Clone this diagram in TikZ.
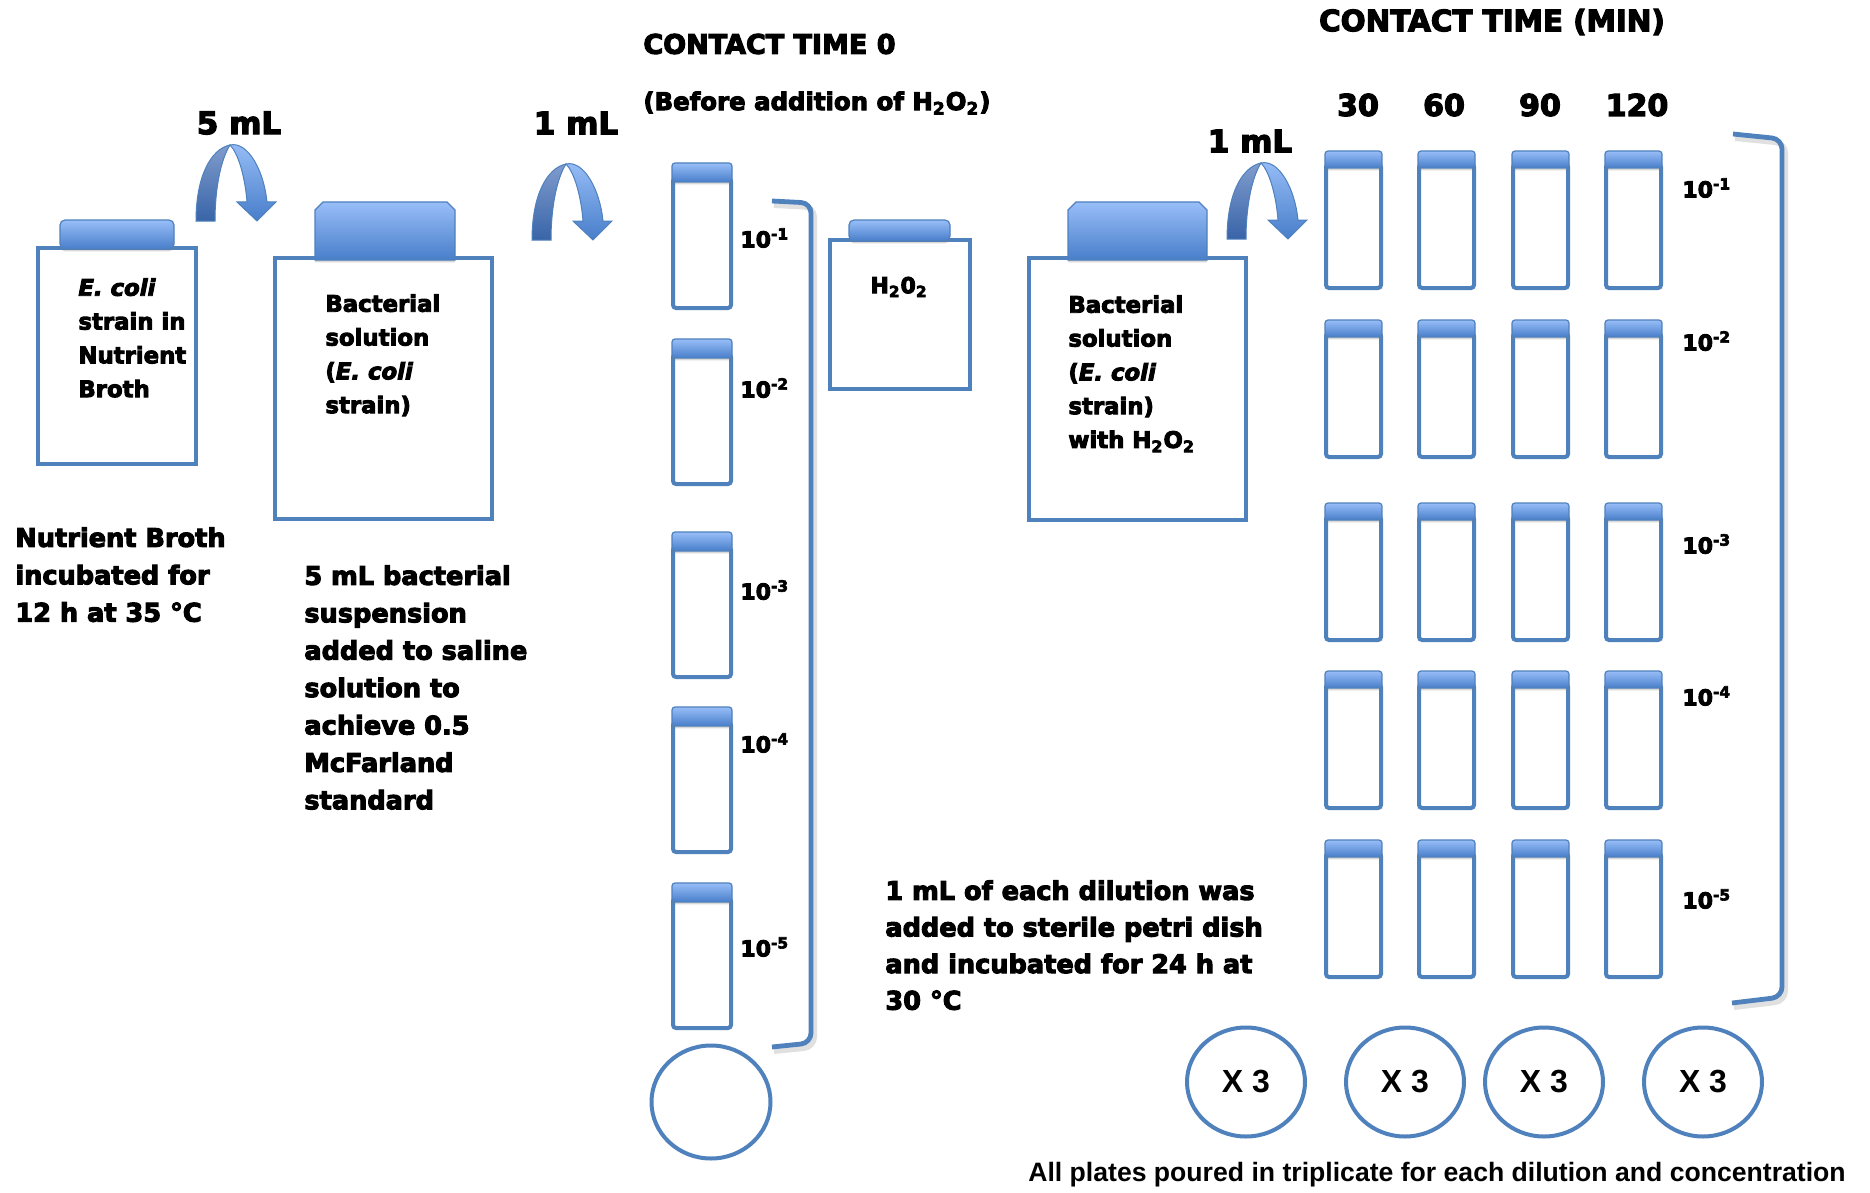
\documentclass[tikz,border=0pt]{standalone}
\usepackage{fontspec}
\setmainfont{DejaVu Sans}[UprightFont={DejaVu Sans Bold},BoldFont={DejaVu Sans Bold},ItalicFont={DejaVu Sans Bold Oblique},BoldItalicFont={DejaVu Sans Bold Oblique},UprightFeatures={FakeBold=4},BoldFeatures={FakeBold=4},ItalicFeatures={FakeBold=4},BoldItalicFeatures={FakeBold=4}]
\newfontfamily\arialfont{Liberation Sans Bold}
\usetikzlibrary{shadows,shapes.geometric}
\definecolor{bblue}{RGB}{79,129,189}
\definecolor{captop}{RGB}{152,190,248}
\definecolor{capbot}{RGB}{72,126,202}
\definecolor{legtop}{RGB}{128,156,205}
\definecolor{legbot}{RGB}{56,100,168}
\tikzset{
  boxline/.style={draw=bblue, line width=2.2pt},
  tubeline/.style={draw=bblue, line width=2pt, rounded corners=1.5pt},
  capfill/.style={top color=captop, bottom color=capbot, draw=bblue, line width=0.6pt,
     drop shadow={opacity=0.3, shadow xshift=0pt, shadow yshift=-1.2pt}},
  bracketline/.style={draw=bblue, line width=2.4pt, rounded corners=5pt},
  bracketshadow/.style={draw=black, opacity=0.12, line width=3pt, rounded corners=5pt},
  dish/.style={ellipse, draw=bblue, line width=2pt, inner sep=0pt,
     minimum width=59pt, minimum height=54.5pt, font=\arialfont\fontsize{16}{19}\selectfont},
  boxtxt/.style={inner sep=0pt, anchor=north west, align=left, font=\fontsize{11.4}{16.9}\selectfont},
  blocktxt/.style={inner sep=0pt, anchor=north west, align=left, font=\fontsize{12.8}{18.7}\selectfont},
  rowlab/.style={inner sep=0pt, anchor=west, font=\fontsize{11}{13}\selectfont},
  mllab/.style={inner sep=0pt, font=\fontsize{15.5}{18}\selectfont},
  collab/.style={inner sep=0pt, font=\fontsize{15}{18}\selectfont},
  curvarrow/.pic={
    \path[top color=legtop, bottom color=legbot, draw=bblue, line width=0.5pt]
      (0,0) .. controls (0,-45) and (15,-72) .. (34,-76)
      .. controls (24,-60) and (19,-30) .. (19,0) -- cycle;
    \path[top color=captop, bottom color=capbot, draw=bblue, line width=0.5pt]
      (34,-76) .. controls (52,-80) and (68,-50) .. (71,-19) -- (80,-19) -- (61,0) -- (41,-19) -- (51,-19)
      .. controls (49,-45) and (42,-68) .. (34,-76) -- cycle;
  },
  tubeL/.pic={
    \draw[tubeline] (2,15) rectangle (60,145);
    \path[capfill, rounded corners=1.5pt] (1,0) rectangle (61,19);
  },
  tubeG/.pic={
    \draw[tubeline] (2,13) rectangle (57,137);
    \path[capfill, rounded corners=1.5pt] (1,0) rectangle (58,17);
  }
}
\begin{document}
\begin{tikzpicture}[x=0.5pt,y=-0.5pt]
\useasboundingbox (0,0) rectangle (1870,1193);
\fill[white] (0,0) rectangle (1870,1193);

% ---- Box 1: E. coli in nutrient broth
\draw[boxline] (38,248) rectangle (196,464);
\path[capfill, rounded corners=2.5pt] (60,220) rectangle (174,249);
\node[boxtxt] (t1) at (78,278) {\textit{E. coli}\\strain in\\Nutrient\\Broth};

% ---- Box 2: bacterial solution
\draw[boxline] (275,258) rectangle (492,519);
\path[capfill] (315,260) -- (315,210) -- (323,202) -- (447,202) -- (455,210) -- (455,260) -- cycle;
\node[boxtxt] (t2) at (325,294) {Bacterial\\solution\\(\textit{E. coli}\\strain)};

% ---- H2O2 box
\draw[boxline] (830,240) rectangle (970,389);
\path[capfill, rounded corners=2.5pt] (849,220) rectangle (950,241);
\node[inner sep=0pt, font=\fontsize{11}{13}\selectfont] (h2o2) at (899,287) {H\textsubscript{2}0\textsubscript{2}};

% ---- Box 3: bacterial solution with H2O2
\draw[boxline] (1029,258) rectangle (1246,520);
\path[capfill] (1068,260) -- (1068,210) -- (1076,202) -- (1199,202) -- (1207,210) -- (1207,260) -- cycle;
\node[boxtxt] (t3) at (1068,295) {Bacterial\\solution\\(\textit{E. coli}\\strain)\\with H\textsubscript{2}O\textsubscript{2}};

% ---- curved arrows
\pic at (196,221) {curvarrow};
\pic at (532,240) {curvarrow};
\pic at (1227,239) {curvarrow};
\node[mllab] (ml5) at (239,123) {5 mL};
\node[mllab] (ml1a) at (576,123) {1 mL};
\node[mllab] (ml1b) at (1250,141) {1 mL};

% ---- headings
\node[inner sep=0pt, anchor=west, font=\fontsize{13.5}{16}\selectfont] (ct0) at (643,44) {CONTACT TIME 0};
\node[inner sep=0pt, anchor=west, font=\fontsize{12.2}{15}\selectfont] (before) at (643,103) {(Before addition of H\textsubscript{2}O\textsubscript{2})};
\node[inner sep=0pt, font=\fontsize{14.7}{17}\selectfont] (ctmin) at (1492,22) {CONTACT TIME (MIN)};
\node[collab] (c30) at (1358,105) {30};
\node[collab] (c60) at (1444,105) {60};
\node[collab] (c90) at (1540,105) {90};
\node[collab] (c120) at (1637,105) {120};

% ---- left dilution column
\foreach \yy in {163,339,532,707,883} { \pic at (671,\yy) {tubeL}; }
\node[rowlab] (l1) at (740,238) {10\textsuperscript{-1}};
\node[rowlab] (l2) at (740,388) {10\textsuperscript{-2}};
\node[rowlab] (l3) at (740,590) {10\textsuperscript{-3}};
\node[rowlab] (l4) at (740,743) {10\textsuperscript{-4}};
\node[rowlab] (l5) at (740,947) {10\textsuperscript{-5}};
\draw[bracketshadow] (774,205) -- (814,207) -- (814,1047) -- (774,1051);
\draw[bracketline] (772,201) -- (811,203) -- (811,1043) -- (772,1047);
\node[dish, minimum width=59.5pt, minimum height=56.5pt] (petri) at (711,1102) {};

% ---- grid of tubes
\foreach \xx in {1324,1417,1511,1604} {
  \foreach \yy in {151,320,503,671,840} { \pic at (\xx,\yy) {tubeG}; }
}
\node[rowlab] (r1) at (1682,188) {10\textsuperscript{-1}};
\node[rowlab] (r2) at (1682,341) {10\textsuperscript{-2}};
\node[rowlab] (r3) at (1682,544) {10\textsuperscript{-3}};
\node[rowlab] (r4) at (1682,696) {10\textsuperscript{-4}};
\node[rowlab] (r5) at (1682,899) {10\textsuperscript{-5}};
\draw[bracketshadow] (1735,138) -- (1785,143) -- (1785,1001) -- (1734,1007);
\draw[bracketline] (1733,134) -- (1782,139) -- (1782,997) -- (1732,1003);

% ---- text blocks
\node[blocktxt] (b1) at (15,527) {Nutrient Broth\\incubated for\\12 h at 35 °C};
\node[blocktxt] (b2) at (304,565) {5 mL bacterial\\suspension\\added to saline\\solution to\\achieve 0.5\\McFarland\\standard};
\node[blocktxt, font=\fontsize{12.8}{18.3}\selectfont] (b3) at (885,880) {1 mL of each dilution was\\added to sterile petri dish\\and incubated for 24 h at\\30 °C};

% ---- plates
\node[dish] (d1) at (1246,1082) {X 3};
\node[dish] (d2) at (1405,1082) {X 3};
\node[dish] (d3) at (1544,1082) {X 3};
\node[dish] (d4) at (1703,1082) {X 3};
\node[inner sep=0pt, font=\arialfont\fontsize{13.3}{16}\selectfont] (foot) at (1437,1175) {All plates poured in triplicate for each dilution and concentration};
\end{tikzpicture}
\end{document}
